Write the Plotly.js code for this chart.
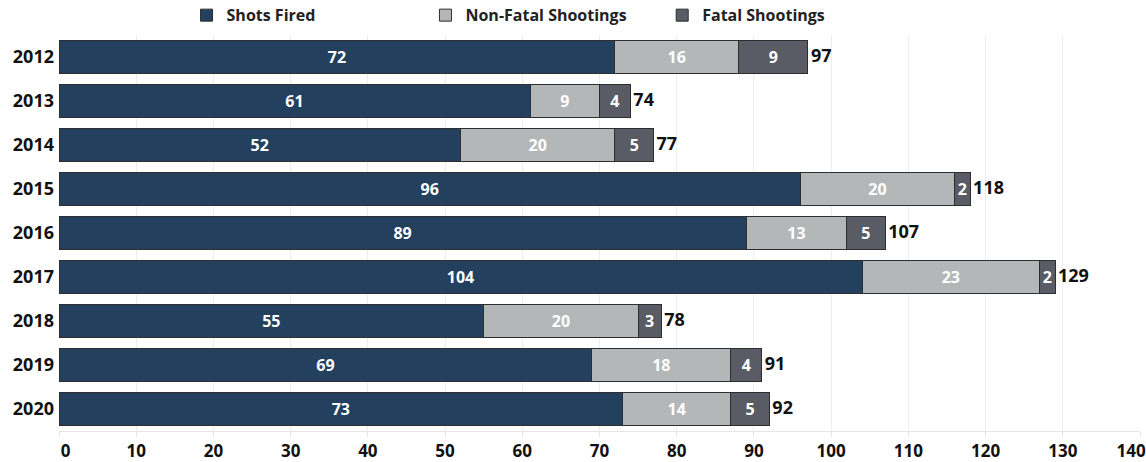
<!DOCTYPE html>
<html>
<head>
<meta charset="utf-8">
<script src="https://cdn.plot.ly/plotly-3.0.1.min.js"></script>
<style>
html,body{margin:0;padding:0;background:#fff;}
#chart{width:1146px;height:462px;}
</style>
</head>
<body>
<div id="chart"></div>
<script>
const years = ["2012","2013","2014","2015","2016","2017","2018","2019","2020"];
const shotsFired = [72,61,52,96,89,104,55,69,73];
const nonFatal = [16,9,20,20,13,23,20,18,14];
const fatal = [9,4,5,2,5,2,3,4,5];
const xTicks = [0,10,20,30,40,50,60,70,80,90,100,110,120,130,140];

const totals = years.map((y,i)=>shotsFired[i]+nonFatal[i]+fatal[i]);

const FONT = "Open Sans, Noto Sans, DejaVu Sans, sans-serif";
const lineStyle = {color:"#2e2e2e", width:1};
const NB = "\u00A0";

// edge labels nudged inward (as in the original) so they stay inside the page
const xTickText = xTicks.map((v,i) => {
  if (i === 0) return NB + NB + NB + String(v);
  if (i === xTicks.length - 1) return String(v) + NB + NB + NB + NB;
  return String(v);
});

function barTrace(name, vals, color, legendId){
  return {
    type:"bar", orientation:"h", name:name,
    y: years, x: vals,
    marker:{color:color, line:lineStyle},
    text: vals.map(String),
    textposition:"inside", insidetextanchor:"middle",
    constraintext:"none", textangle:0,
    textfont:{family:FONT, size:16, color:"#ffffff", weight:"bold"},
    hoverinfo:"x+name",
    legend: legendId
  };
}

const data = [
  barTrace("Shots Fired", shotsFired, "#24405f", "legend"),
  barTrace("Non-Fatal Shootings", nonFatal, "#b4b7b8", "legend2"),
  barTrace("Fatal Shootings", fatal, "#595c64", "legend3"),
  {
    type:"scatter", mode:"text", y: years, x: totals,
    text: totals.map(v => "\u2009" + v), textposition:"middle right",
    textfont:{family:FONT, size:18, color:"#111111", weight:"bold"},
    showlegend:false, hoverinfo:"skip", cliponaxis:false
  }
];

const legendBase = {
  orientation:"h", yanchor:"middle", xanchor:"left",
  yref:"container", y:0.967,
  font:{family:FONT, size:16, color:"#222222", weight:"bold"},
  bgcolor:"rgba(0,0,0,0)", itemclick:false, itemdoubleclick:false
};

const layout = {
  width:1146, height:462,
  margin:{l:59, r:6, t:35, b:31, autoexpand:false},
  paper_bgcolor:"#ffffff", plot_bgcolor:"#ffffff",
  barmode:"stack", bargap:0.24,
  font:{family:FONT, color:"#111111"},
  showlegend:true,
  legend: Object.assign({}, legendBase, {x:0.118}),
  legend2: Object.assign({}, legendBase, {x:0.339}),
  legend3: Object.assign({}, legendBase, {x:0.558}),
  xaxis:{
    range:[0,140], tickvals:xTicks, ticktext:xTickText,
    showgrid:true, gridcolor:"#ededed", gridwidth:1,
    zeroline:false, showline:true, linecolor:"#e6e6e6", linewidth:1,
    ticks:"outside", ticklen:5, tickcolor:"#e6e6e6",
    ticklabelstandoff:0, ticklabeloverflow:"allow",
    tickfont:{family:FONT, size:17, color:"#111111", weight:"bold"},
    fixedrange:true
  },
  yaxis:{
    type:"category", autorange:"reversed",
    showgrid:false, zeroline:false, showline:false, ticks:"",
    ticklabelstandoff:4,
    tickfont:{family:FONT, size:18, color:"#111111", weight:"bold"},
    fixedrange:true
  }
};

Plotly.newPlot("chart", data, layout, {displayModeBar:false});
</script>
</body>
</html>
